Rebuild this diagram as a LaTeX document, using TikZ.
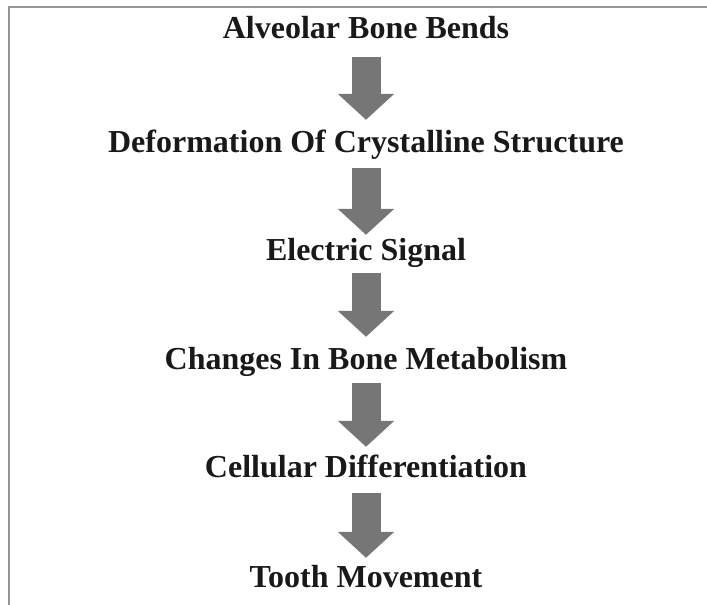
\documentclass[tikz,border=0pt]{standalone}
\usepackage{fontspec}
\setmainfont{Liberation Serif}
\usetikzlibrary{arrows.meta}
\definecolor{arrowgray}{RGB}{118,118,118}
\definecolor{framegray}{RGB}{150,150,150}
\tikzset{
  stage/.style={anchor=base, inner sep=0pt, text height=22pt, text depth=7pt,
    font=\fontsize{32}{38}\selectfont\bfseries, text=black!90},
  bigarrow/.style={draw=arrowgray, line width=29pt,
    -{Triangle[width=55pt,length=26pt,fill=arrowgray]}},
  framestyle/.style={draw=framegray, line width=2pt}
}
\begin{document}
\begin{tikzpicture}[x=1pt,y=-1pt]
\useasboundingbox (0,0) rectangle (707,605);
\coordinate (fl) at (9,605);
\coordinate (ftl) at (9,7);
\coordinate (fr) at (707,7);
\draw[framestyle] (fl) -- (ftl) -- (fr);
\node[stage] (n1) at (366,38) {Alveolar Bone Bends};
\node[stage] (n2) at (366,152) {Deformation Of Crystalline Structure};
\node[stage] (n3) at (366,260) {Electric Signal};
\node[stage] (n4) at (366,369) {Changes In Bone Metabolism};
\node[stage] (n5) at (366,477) {Cellular Differentiation};
\node[stage] (n6) at (366,587) {Tooth Movement};
\draw[bigarrow, shorten <=12pt, shorten >=10pt] (n1.south) -- (n2.north);
\draw[bigarrow, shorten <=9pt, shorten >=3pt] (n2.south) -- (n3.north);
\draw[bigarrow, shorten <=6pt, shorten >=10pt] (n3.south) -- (n4.north);
\draw[bigarrow, shorten <=7pt, shorten >=8pt] (n4.south) -- (n5.north);
\draw[bigarrow, shorten <=9pt, shorten >=7pt] (n5.south) -- (n6.north);
\end{tikzpicture}
\end{document}
